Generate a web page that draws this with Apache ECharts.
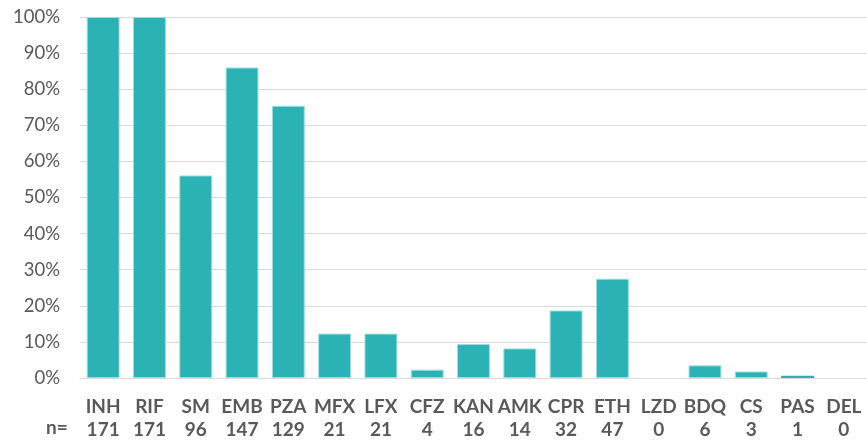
<!DOCTYPE html>
<html>
<head>
<meta charset="utf-8">
<script src="https://cdn.jsdelivr.net/npm/echarts@6/dist/echarts.min.js"></script>
<style>
  html, body { margin: 0; padding: 0; background: #fff; }
  #chart { width: 867px; height: 442px; }
</style>
</head>
<body>
<div id="chart"></div>
<script>
// drug names and number of isolates (n)
let drugs = ["INH", "RIF", "SM", "EMB", "PZA", "MFX", "LFX", "CFZ", "KAN", "AMK", "CPR", "ETH", "LZD", "BDQ", "CS", "PAS", "DEL"];
let counts = [171, 171, 96, 147, 129, 21, 21, 4, 16, 14, 32, 47, 0, 6, 3, 1, 0];
// percent values
let percents = [100, 100, 56.1, 86.0, 75.4, 12.3, 12.3, 2.3, 9.4, 8.2, 18.7, 27.5, 0, 3.5, 1.8, 0.6, 0];

let myChart = echarts.init(document.getElementById("chart"));

let labelFont = "Lato, 'Open Sans', sans-serif";

myChart.setOption({
  animation: false,
  grid: { left: 80, right: -4, top: 17, bottom: 64 },
  xAxis: {
    type: "category",
    data: drugs.map((d, i) => d + "\n" + counts[i]),
    axisLine: { lineStyle: { color: "#d9d9d9" } },
    axisTick: { show: false },
    axisLabel: {
      interval: 0,
      margin: 17,
      color: "#595959",
      fontFamily: labelFont,
      fontWeight: "bold",
      fontSize: 19,
      lineHeight: 23,
    },
  },
  yAxis: {
    type: "value",
    min: 0,
    max: 100,
    interval: 10,
    axisLine: { show: false },
    axisTick: { show: false },
    splitLine: { lineStyle: { color: "#d9d9d9", width: 1 } },
    axisLabel: {
      margin: 20,
      color: "#595959",
      fontFamily: labelFont,
      fontSize: 18.5,
      formatter: "{value}%",
    },
  },
  // "n=" label in front of the counts row
  graphic: [
    {
      type: "text",
      left: 46,
      top: 418,
      style: {
        text: "n=",
        fill: "#595959",
        font: "bold 19px " + labelFont,
      },
    },
  ],
  series: [
    {
      type: "bar",
      // no outline on empty / very thin bars
      data: percents.map((v) => ({ value: v, itemStyle: { borderWidth: v > 1 ? 1 : 0 } })),
      barCategoryGap: "29%",
      itemStyle: {
        color: "#2ab2b5",
        borderColor: "#9edcdd",
      },
    },
  ],
});
</script>
</body>
</html>
